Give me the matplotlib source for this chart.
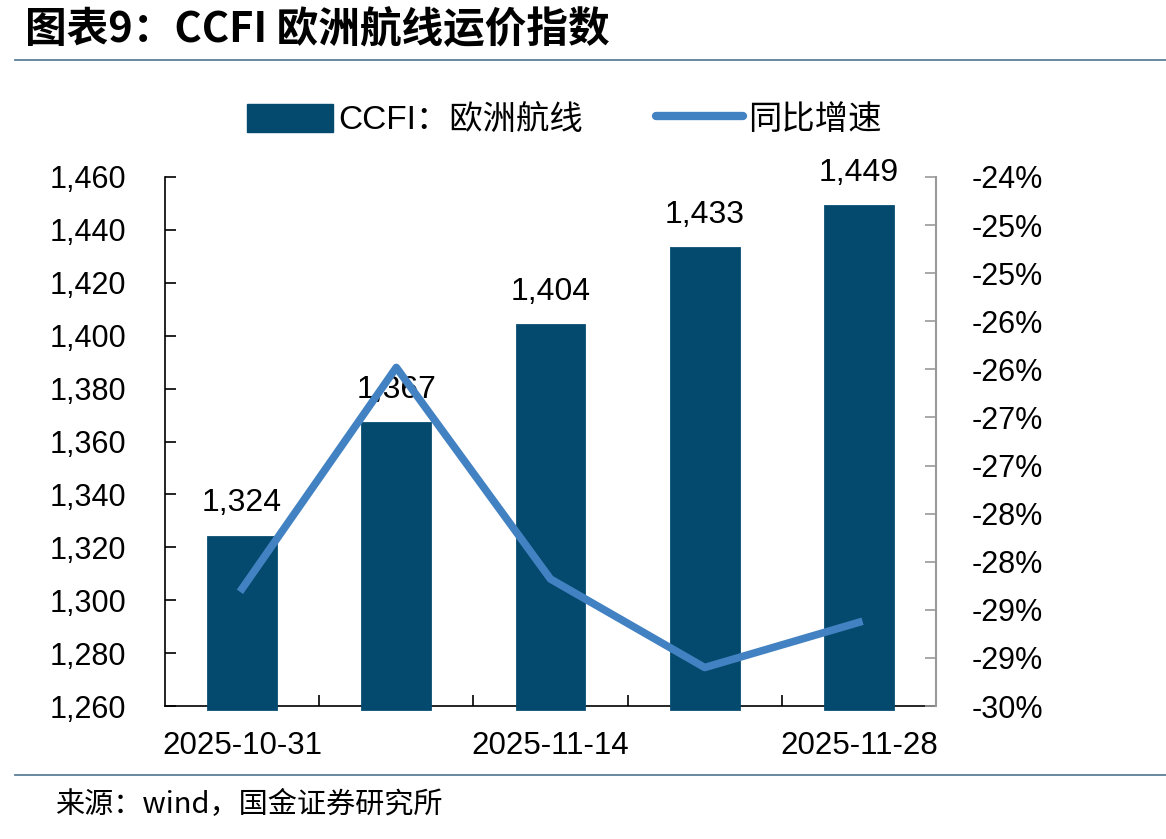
import matplotlib.pyplot as plt
from matplotlib.ticker import FuncFormatter, FixedLocator
from matplotlib.patches import FancyBboxPatch
from matplotlib.lines import Line2D

plt.rcParams['font.family'] = ['Liberation Sans', 'Noto Sans CJK SC', 'DejaVu Sans']

# data
dates = ['2025-10-31', '2025-11-07', '2025-11-14', '2025-11-21', '2025-11-28']
ccfi_europe = [1324, 1367, 1404, 1433, 1449]
yoy = [-28.28, -25.98, -28.18, -29.10, -28.63]   # %
shown_dates = ['2025-10-31', '', '2025-11-14', '', '2025-11-28']

bar_color = '#034a6e'
line_color = '#4282c2'

fig = plt.figure(figsize=(11.66, 8.39), dpi=100)
ax = fig.add_axes([165 / 1166, 1 - 706 / 839, (936 - 165) / 1166, (706 - 177) / 839])
ax2 = ax.twinx()

x = list(range(len(dates)))
bars = ax.bar(x, [v - 1258.8 for v in ccfi_europe], bottom=1258.8, width=0.44,
              color=bar_color, edgecolor=bar_color, linewidth=2, zorder=2,
              clip_on=False)
ax.set_ylim(1260, 1460)
ax.set_xlim(-0.5, len(dates) - 0.5)
ax.set_yticks(range(1260, 1461, 20))
ax.yaxis.set_major_formatter(FuncFormatter(lambda v, p: f'{int(v):,}'))
ax.xaxis.set_major_locator(FixedLocator([i + 0.5 for i in x[:-1]]))
ax.set_xticklabels([])
ax.set_xticks(x, minor=True)
ax.set_xticklabels(shown_dates, minor=True)
ax.tick_params(axis='x', which='major', direction='in', length=8, width=1.2)
ax.tick_params(axis='x', which='minor', length=0, pad=18, labelsize=22.5)
ax.tick_params(axis='y', direction='in', length=8, width=1.2, labelsize=22, pad=28)
for s in ['top', 'right']:
    ax.spines[s].set_visible(False)
ax2.spines['top'].set_visible(False)
ax2.spines['left'].set_visible(False)
ax2.spines['bottom'].set_visible(False)
for s in ['left', 'bottom']:
    ax.spines[s].set_linewidth(1.2)
    ax.spines[s].set_zorder(1)
ax2.spines['right'].set_color('#999999')
ax2.spines['right'].set_linewidth(1.5)

for xi, v in zip(x, ccfi_europe):
    ax.annotate(f'{v:,}', (xi, v), xytext=(0, 24), textcoords='offset points',
                ha='center', va='center', fontsize=23, zorder=5)

ax2.plot(x, yoy, color=line_color, linewidth=5.5, zorder=3)
ax2.set_ylim(-29.5, -24.0)
ax2.set_yticks([-24.0 - 0.5 * i for i in range(12)])


def pct(v, p):
    n = int(abs(v) + 0.5)
    return f'-{n}%'


ax2.yaxis.set_major_formatter(FuncFormatter(pct))
ax2.tick_params(axis='y', direction='in', length=8, width=1.2, color='#999999',
                labelsize=22, pad=26)

# legend
handles = [FancyBboxPatch((0, 0), 1, 1, boxstyle='round,pad=0.05', color=bar_color),
           Line2D([0], [0], color=line_color, linewidth=6, solid_capstyle='round')]
fig.legend(handles, ['CCFI：欧洲航线', '同比增速'], loc='center',
           bbox_to_anchor=(564 / 1166, 1 - 120 / 839), ncol=2, frameon=False,
           fontsize=24, handlelength=2.6, handleheight=0.9, columnspacing=2.2,
           handletextpad=0.15)

# title and source
fig.text(25 / 1166, 1 - 30 / 839, '图表9：CCFI 欧洲航线运价指数', fontsize=30,
         fontweight='bold', fontstyle='italic', va='center', ha='left',
         family=['Noto Sans CJK SC', 'DejaVu Sans'])
fig.add_artist(Line2D([15 / 1166, 1], [1 - 60 / 839] * 2, color='#5b7f99', linewidth=1.3))
fig.add_artist(Line2D([15 / 1166, 1], [1 - 775 / 839] * 2, color='#5b7f99', linewidth=1.3))
fig.text(55 / 1166, 1 - 805 / 839, '来源：wind，国金证券研究所', fontsize=21,
         va='center', ha='left', family=['Noto Sans CJK SC', 'DejaVu Sans'])

fig.savefig('out.png', dpi=100)
